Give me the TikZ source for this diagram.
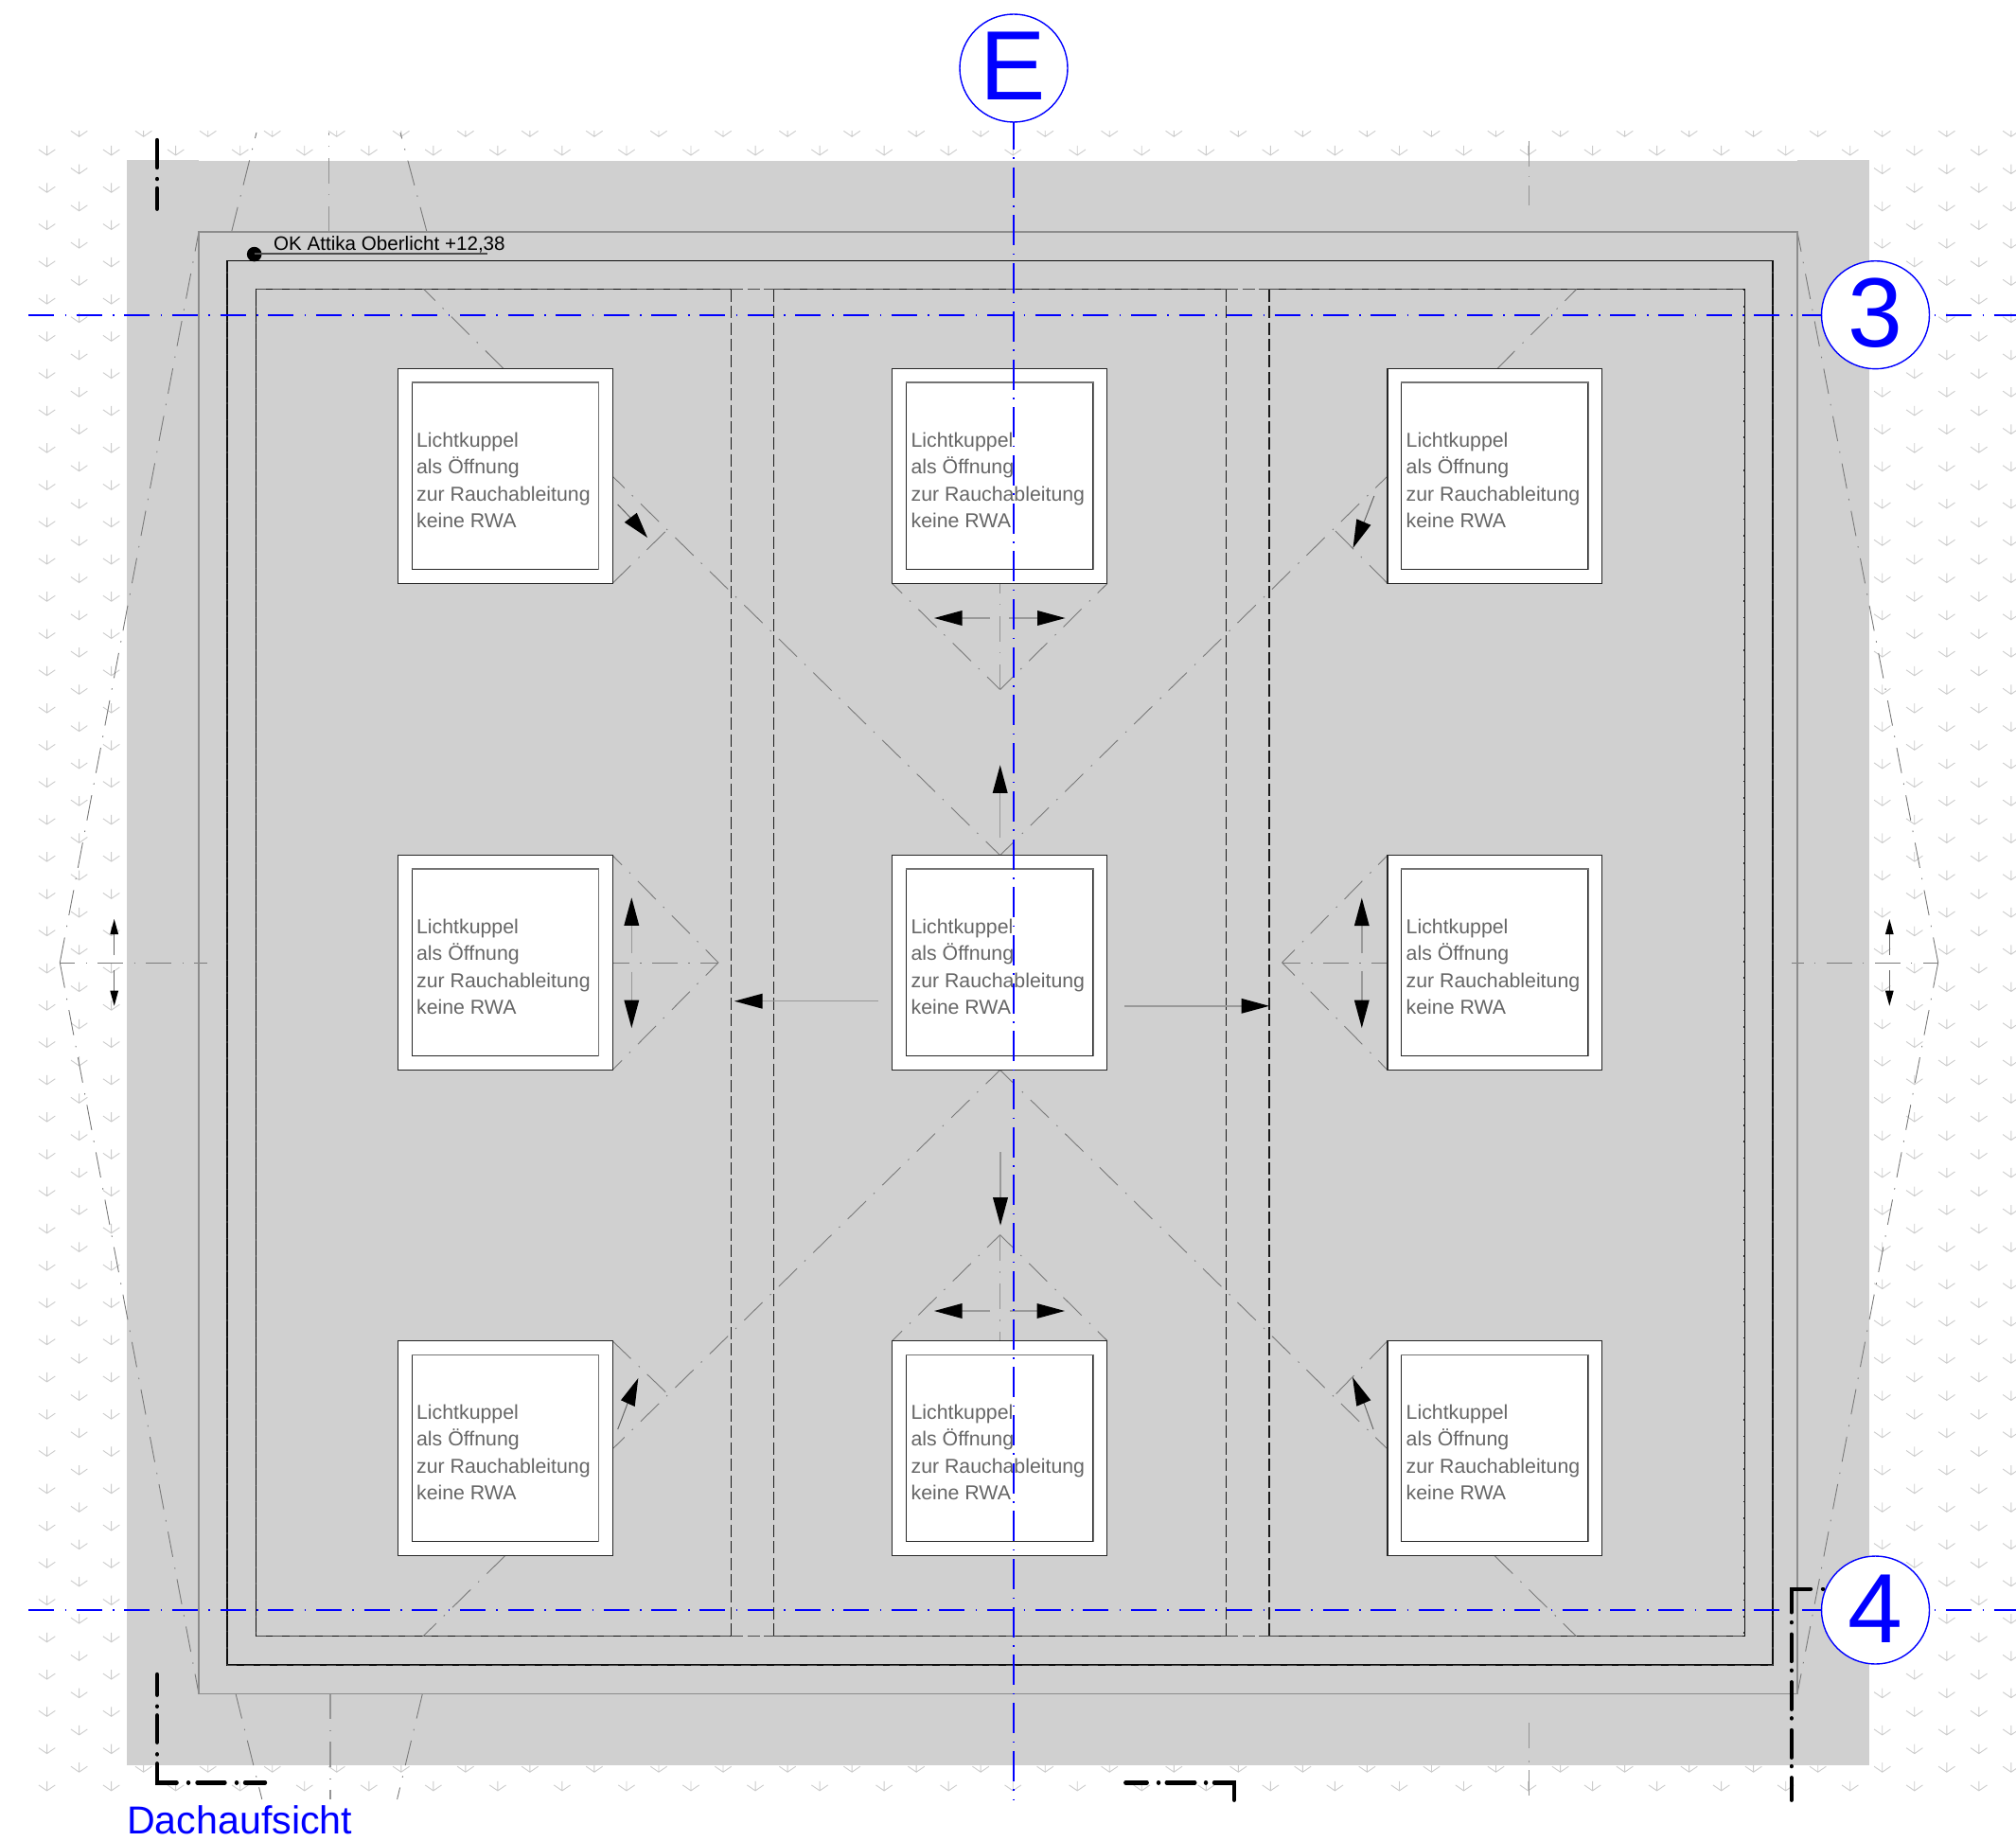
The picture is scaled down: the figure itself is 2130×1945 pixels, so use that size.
\documentclass[tikz,border=0pt]{standalone}
\usepackage{fontspec}
\setmainfont{Liberation Sans}
\definecolor{roofgray}{gray}{0.816}
\definecolor{planblue}{rgb}{0,0,1}
\tikzset{
  x=1pt,y=-1pt,
  snowmark/.style={draw=black!20,line width=0.9pt},
  ridge/.style={draw=black!52,line width=0.9pt,dash pattern=on 27pt off 11.5pt on 1.5pt off 11pt},
  ridgevert/.style={ridge,draw=black!42,line width=1.2pt},
  stem/.style={draw=black!40,line width=1.5pt},
  thinstem/.style={draw=black!60,line width=1pt},
  outerline/.style={draw=black!45,line width=1.1pt},
  solidline/.style={draw=black!95,line width=1.3pt},
  overlay/.style={draw=black!72,line width=0.7pt,dash pattern=on 10pt off 7.5pt},
  ticks/.style={draw=black!85,line width=1.8pt,dash pattern=on 1.5pt off 15.8pt},
  columnline/.style={draw=black!90,line width=1.1pt,dash pattern=on 13pt off 4.4pt},
  skylight/.style={draw=black!85,fill=white,line width=1.3pt,minimum width=226.8pt,minimum height=226.8pt,inner sep=0pt},
  skyinner/.style={draw=black!85,fill=white,line width=1.2pt,minimum width=197pt,minimum height=197pt,inner sep=0pt},
  kuppeltext/.style={anchor=base west,inner sep=0pt,text=black!60,font=\fontsize{21.3}{21.3}\selectfont},
  axisline/.style={draw=planblue,line width=1.8pt,dash pattern=on 27pt off 11.5pt on 1.6pt off 10.55pt},
  axisvert/.style={draw=planblue,line width=1.8pt,dash pattern=on 32pt off 8.5pt on 1.5pt off 8.7pt,dash phase=3},
  axiscircle/.style={circle,draw=planblue,fill=white,line width=1.4pt,minimum size=114pt,inner sep=0pt},
  axisletter/.style={anchor=base,inner sep=0pt,text=planblue,font=\fontsize{104}{104}\selectfont},
  secline/.style={draw=black,line width=4.4pt,line cap=round,line join=miter},
}
\newcommand{\bighead}[3]{\fill[black,shift={(#1,#2)},rotate=#3] (0,0)--(-29.5,8)--(-29.5,-8)--cycle;}
\newcommand{\smallhead}[3]{\fill[black,shift={(#1,#2)},rotate=#3] (0,0)--(-16,4.4)--(-16,-4.4)--cycle;}
\begin{document}
\begin{tikzpicture}
\useasboundingbox (0,0) rectangle (2130,1945);
\fill[white] (0,0) rectangle (2130,1945);
% snow hatch
\begin{scope}
\clip (30,139) rectangle (2130,1902);
\foreach \c in {0,...,61}{
  \pgfmathsetmacro{\px}{49.6+34.02*\c}
  \pgfmathsetmacro{\py}{159-19.7*mod(\c,2)}
  \foreach \r in {0,...,44}{
    \pgfmathsetmacro{\qy}{\py+39.27*\r}
    \draw[snowmark] (\px,\qy-5) -- (\px,\qy+5) (\px-8.7,\qy-1) -- (\px,\qy+5) -- (\px+8.7,\qy-1);
  }
}
\end{scope}
% roof surface
\fill[roofgray] (134,170) rectangle (1975,1865);
\fill[roofgray] (134,169) rectangle (210,171);
\fill[roofgray] (1899,169) rectangle (1975,171);
% outer falls
\draw[ridge] (63.3,1017) -- (210,245);
\draw[ridge] (63.3,1017) -- (210,1789.3);
\draw[ridge] (2047.7,1017) -- (1899,245);
\draw[ridge] (2047.7,1017) -- (1899,1789.3);
\draw[ridge,dash phase=11] (63.3,1017) -- (219,1017);
\draw[ridge,dash phase=11] (2047.7,1017) -- (1893,1017);
\draw[ridge] (244.6,245) -- (271,140);
\draw[ridge] (451,245) -- (423,140);
\draw[ridgevert] (347.3,245) -- (347.3,140);
\draw[ridge] (249,1789.3) -- (276.8,1901);
\draw[ridge] (446.4,1789.3) -- (419.6,1901);
\draw[ridgevert] (349,1789.3) -- (349,1901);
\draw[ridgevert] (1615.7,149) -- (1615.7,176) (1615.7,186) -- (1615.7,187.5) (1615.7,196) -- (1615.7,217);
\draw[ridgevert] (1615.7,1820) -- (1615.7,1850) (1615.7,1860) -- (1615.7,1861.5) (1615.7,1870) -- (1615.7,1899);
\draw[thinstem] (120.7,1009.3) -- (120.7,985);
\draw[thinstem] (120.7,1025.3) -- (120.7,1049);
\smallhead{120.7}{971}{90}
\smallhead{120.7}{1062.7}{-90}
\draw[thinstem] (1996.3,1009.3) -- (1996.3,985);
\draw[thinstem] (1996.3,1025.3) -- (1996.3,1049);
\smallhead{1996.3}{971}{90}
\smallhead{1996.3}{1062.7}{-90}
% outlines
\draw[outerline] (210,245) rectangle (1899,1789.3);
\draw[solidline] (240,275.5) rectangle (1873,1759);
\draw[overlay] (240,1759) -- (1873,1759);
\draw[ticks] (240,1759) -- (240,276);
\draw[ticks] (1873,1759) -- (1873,276);
% inner surface
\draw[solidline] (772.3,305.7) -- (270.5,305.7) -- (270.5,1728.7) -- (772.3,1728.7);
\draw[solidline] (817.7,305.7) -- (1295.3,305.7);
\draw[solidline] (817.7,1728.7) -- (1295.3,1728.7);
\draw[solidline] (1341,305.7) -- (1843.2,305.7) -- (1843.2,1728.7) -- (1341,1728.7);
\draw[overlay] (270.5,305.7) -- (772.3,305.7) (817.7,305.7) -- (1295.3,305.7) (1341,305.7) -- (1843.2,305.7);
\draw[overlay] (270.5,1728.7) -- (772.3,1728.7) (817.7,1728.7) -- (1295.3,1728.7) (1341,1728.7) -- (1843.2,1728.7);
\draw[ticks] (270.5,305.7) -- (270.5,1728.7);
\draw[ticks] (1843.2,305.7) -- (1843.2,1728.7);
\draw[columnline] (772.3,305.7) -- (772.3,1728.7);
\draw[columnline] (817.7,305.7) -- (817.7,1728.7);
\draw[columnline] (1295.3,305.7) -- (1295.3,1728.7);
\draw[columnline] (1341,305.7) -- (1341,1728.7);
\draw[columnline,draw=black!70] (772.3,305.7) -- (817.7,305.7) (1295.3,305.7) -- (1341,305.7);
\draw[columnline,draw=black!70] (772.3,1728.7) -- (817.7,1728.7) (1295.3,1728.7) -- (1341,1728.7);
% ridges and valleys
\draw[ridge] (532,389.6) -- (448,305.7);
\draw[ridge] (1581.4,390) -- (1665.4,305.7);
\draw[ridge] (533.7,1643.6) -- (447,1728.7);
\draw[ridge] (1579,1643.6) -- (1665.4,1728.7);
\draw[ridge,dash phase=6] (1056.6,903.6) -- (647,503);
\draw[ridge,dash phase=6] (1056.6,903.6) -- (1466,503);
\draw[ridge] (647,616.4) -- (706.7,558);
\draw[ridge] (1466,616.4) -- (1408,558);
\draw[ridge,dash phase=6] (1056.6,1130.5) -- (647,1531);
\draw[ridge,dash phase=6] (1056.6,1130.5) -- (1466,1531);
\draw[ridge] (647,1416.6) -- (706.7,1474);
\draw[ridge] (1466,1416.6) -- (1408.3,1476);
\draw[ridge,dash phase=8] (1056.6,728.5) -- (942.5,616.4);
\draw[ridge,dash phase=8] (1056.6,728.5) -- (1170,616.4);
\draw[ridgevert] (1056.6,728.5) -- (1056.6,616.4);
\draw[ridge,dash phase=8] (1056.6,1304.6) -- (942.5,1416.6);
\draw[ridge,dash phase=8] (1056.6,1304.6) -- (1170,1416.6);
\draw[ridgevert] (1056.6,1304.6) -- (1056.6,1416.6);
\draw[ridge,dash phase=8] (759,1017) -- (647,903.6);
\draw[ridge,dash phase=8] (759,1017) -- (647,1130.5);
\draw[ridge,dash phase=8] (759,1017) -- (647,1017);
\draw[ridge,dash phase=8] (1354.6,1017) -- (1466,903.6);
\draw[ridge,dash phase=8] (1354.6,1017) -- (1466,1130.5);
\draw[ridge,dash phase=8] (1354.6,1017) -- (1466,1017);
% skylights
\foreach \c/\cx in {a/533.75,b/1056.2,c/1579.3}{
  \foreach \r/\ry in {1/503,2/1017,3/1530.2}{
    \node[skylight] (kuppel\c\r) at (\cx,\ry) {};
    \node[skyinner] (innen\c\r) at (\cx,\ry) {};
    \draw[draw=black!55,line width=1.2pt] (innen\c\r.north west) -- (innen\c\r.north east) -- (innen\c\r.south east);
    \foreach \n/\off/\t in {1/82.7/Lichtkuppel,2/111/als Öffnung,3/139.7/zur Rauchableitung,4/167.7/keine RWA}{
      \node[kuppeltext] (text\c\r\n) at (\cx-93.8,\ry-113.4+\off) {\t};
    }
  }
}
% drainage arrows
\draw[stem] (1056.7,885) -- (1056.7,835);
\bighead{1056.7}{808.3}{90}
\draw[stem] (1057,1217) -- (1057,1268);
\bighead{1057}{1294.7}{-90}
\draw[stem] (927.7,1057.7) -- (803,1057.7);
\bighead{776}{1057.7}{180}
\draw[stem] (1188,1062.8) -- (1314,1062.8);
\bighead{1341}{1062.8}{0}
\draw[stem] (1046,653) -- (1015,653);
\bighead{987}{653}{180}
\draw[stem] (1066,653) -- (1098,653);
\bighead{1125.5}{653}{0}
\draw[stem] (1046,1385) -- (1015,1385);
\bighead{987}{1385}{180}
\draw[stem] (1066.5,1385) -- (1098,1385);
\bighead{1125}{1385}{0}
\draw[stem] (667.3,1007) -- (667.3,975);
\bighead{667.3}{948.3}{90}
\draw[stem] (667.3,1026.7) -- (667.3,1059);
\bighead{667.3}{1086}{-90}
\draw[stem] (1438.8,1007) -- (1438.8,975);
\bighead{1438.8}{948.7}{90}
\draw[stem] (1438.8,1026) -- (1438.8,1059);
\bighead{1438.8}{1086}{-90}
% oblique arrows
\draw[thinstem] (652.7,533) -- (667,548);
\fill[black] (684,568) -- (659.8,551.8) -- (672.8,541.8) -- cycle;
\draw[thinstem] (1451.8,524) -- (1441,552);
\fill[black] (1429.5,579) -- (1433.3,548.3) -- (1448.3,554.7) -- cycle;
\draw[thinstem] (652.7,1510) -- (663.3,1482);
\fill[black] (674.3,1456) -- (656,1479.3) -- (670.7,1486) -- cycle;
\draw[thinstem] (1451,1510) -- (1441,1482);
\fill[black] (1429,1455) -- (1433.3,1485.7) -- (1448.3,1479.3) -- cycle;
% level mark
\fill[black] (268.7,268.6) circle (7.8);
\draw[draw=black!70,line width=1.1pt] (268.7,268) -- (514.7,268);
\node[anchor=base west,inner sep=0pt,text=black,font=\fontsize{20.6}{20.6}\selectfont] (level) at (289,264) {OK Attika Oberlicht +12,38};
% axes
\draw[axisline,line width=2.1pt] (30,332.7) -- (2130,332.7);
\draw[axisline,line width=1.5pt] (30,1701) -- (2130,1701);
\draw[axisvert] (1071,129) -- (1071,1901);
\node[axiscircle] (axisE) at (1071,72) {};
\node[axiscircle] (axis3) at (1981.5,332.7) {};
\node[axiscircle] (axis4) at (1981.5,1701) {};
\node[axisletter] (letterE) at (1070.5,105.7) {E};
\node[axisletter] (letter3) at (1981.5,366.5) {3};
\node[axisletter] (letter4) at (1981.5,1735) {4};
% section line
\draw[secline] (166,148) -- (166,177) (166,189) -- (166,189.1) (166,199) -- (166,220.7);
\draw[secline] (166,1769) -- (166,1790.7) (166,1802.7) -- (166,1802.8) (166,1812.3) -- (166,1840.7) (166,1853.3) -- (166,1853.4) (166,1863.3) -- (166,1883.3) -- (186.6,1883.3) (199,1883.3) -- (199.1,1883.3) (208.5,1883.3) -- (237.5,1883.3) (250,1883.3) -- (250.1,1883.3) (259,1883.3) -- (280,1883.3);
\draw[secline] (1189.3,1883.3) -- (1211.7,1883.3) (1224,1883.3) -- (1224.1,1883.3) (1232.7,1883.3) -- (1262.3,1883.3) (1274,1883.3) -- (1274.1,1883.3) (1283,1883.3) -- (1304,1883.3) -- (1304,1901.7);
\draw[secline] (1913,1678.7) -- (1892.7,1678.7) -- (1892.7,1703.3) (1892.7,1714) -- (1892.7,1714.1) (1892.7,1726.7) -- (1892.7,1755) (1892.7,1764.7) -- (1892.7,1764.8) (1892.7,1777.3) -- (1892.7,1805.7) (1892.7,1815.3) -- (1892.7,1815.4) (1892.7,1828) -- (1892.7,1856.7) (1892.7,1866) -- (1892.7,1866.1) (1892.7,1878.3) -- (1892.7,1901.7) (1926,1678.7) -- (1926.1,1678.7);
% title
\node[anchor=base west,inner sep=0pt,text=planblue,font=\fontsize{41.2}{41.2}\selectfont] (title) at (134,1937) {Dachaufsicht};
\end{tikzpicture}
\end{document}
